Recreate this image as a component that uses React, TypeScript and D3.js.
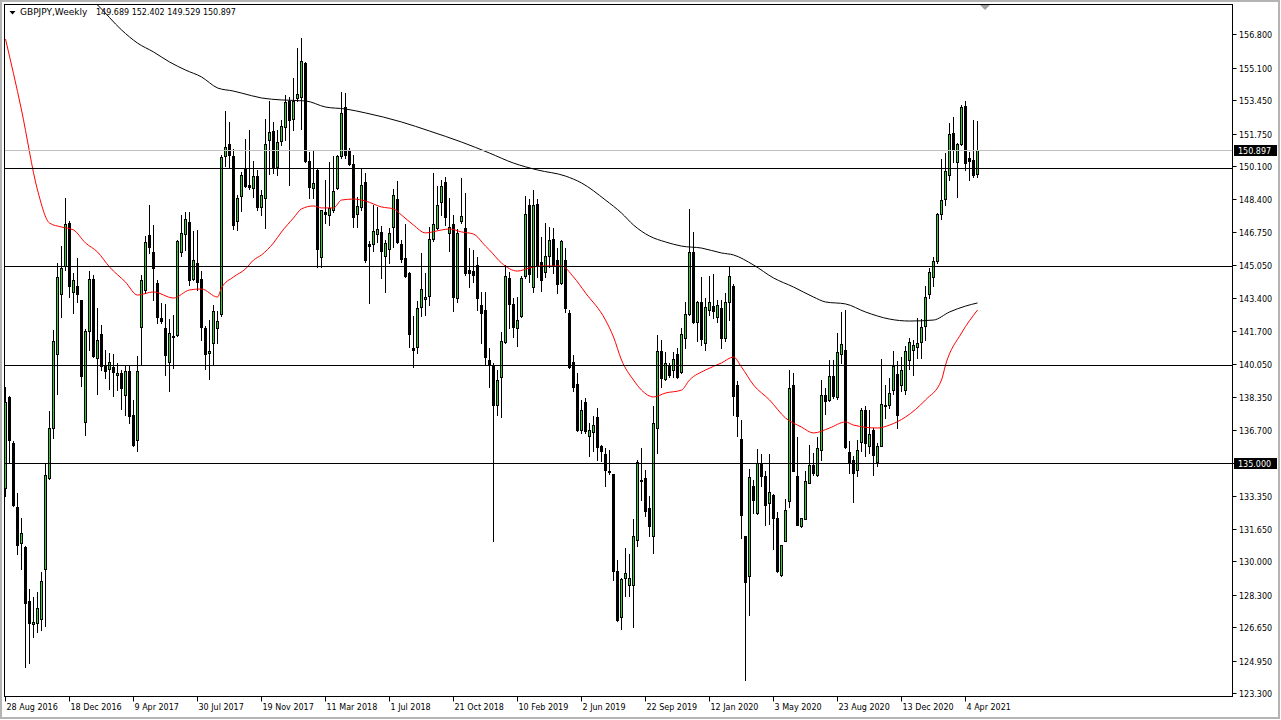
import * as d3 from "d3"

// GBPJPY weekly candles, first bar = week of 28 Aug 2016
const openPrices = [
  133.75, 138.38, 136.0, 132.75, 130.96, 130.71, 127.97, 126.8, 126.86, 127.08,
  129.61, 134.26, 136.79, 140.54, 143.58, 145.02, 147.18, 143.68, 143.99, 143.29,
  137.09, 141.69, 144.34, 140.34, 141.57, 140.0, 139.8, 139.88, 139.46, 139.58,
  138.47, 139.69, 137.46, 136.19, 141.92, 143.81, 146.61, 145.73, 144.15, 142.37,
  141.86, 140.14, 141.45, 141.53, 145.71, 146.64, 147.25, 144.36, 145.17, 144.36,
  141.86, 140.59, 141.1, 141.86, 142.58, 150.63, 151.22, 150.63, 147.29, 148.56,
  149.98, 149.14, 148.97, 149.61, 148.03, 148.46, 151.42, 151.88, 150.03, 151.37,
  152.1, 153.42, 152.47, 153.54, 153.63, 155.32, 150.36, 148.97, 149.9, 145.46,
  147.76, 147.59, 147.86, 148.97, 150.61, 153.12, 150.86, 150.2, 147.64, 148.03,
  149.31, 146.14, 146.12, 146.63, 146.76, 145.54, 145.86, 147.02, 148.41, 146.14,
  145.41, 144.64, 140.83, 140.88, 142.92, 143.32, 143.51, 146.37, 146.97, 148.25,
  149.27, 146.68, 147.14, 143.37, 147.32, 146.93, 144.81, 144.76, 145.07, 143.03,
  142.78, 140.25, 140.0, 137.96, 139.4, 141.13, 144.42, 143.09, 141.85, 142.48,
  144.51, 148.11, 143.93, 148.15, 145.2, 144.7, 145.52, 146.37, 145.32, 144.14,
  145.32, 142.61, 140.16, 139.01, 136.69, 138.1, 136.4, 136.56, 137.33, 135.85,
  135.47, 134.61, 134.46, 129.5, 127.18, 129.16, 128.79, 128.79, 131.11, 134.15,
  134.24, 132.72, 131.31, 136.78, 140.72, 139.26, 139.91, 139.74, 140.55, 139.65,
  141.35, 142.58, 145.74, 142.19, 143.21, 141.09, 142.78, 142.99, 142.41, 142.87,
  141.35, 143.17, 144.0, 138.98, 136.24, 131.31, 129.25, 133.85, 132.46, 135.0,
  134.36, 132.97, 133.39, 132.21, 129.3, 131.02, 133.05, 138.98, 134.36, 131.79,
  132.16, 133.98, 134.92, 134.41, 135.64, 138.47, 138.21, 139.43, 138.35, 140.55,
  140.76, 135.57, 135.18, 134.67, 136.07, 137.7, 135.85, 136.7, 135.04, 135.89,
  137.97, 137.97, 138.7, 139.53, 138.95, 138.7, 140.22, 140.73, 140.9, 141.13,
  141.95, 143.6, 144.45, 145.25, 147.66, 148.41, 149.64, 151.76, 150.29, 151.22,
  153.15, 150.49, 150.41, 149.689,
]
const highPrices = [
  138.85, 138.43, 136.1, 133.5, 132.23, 130.8, 128.6, 128.18, 128.43, 129.48,
  134.93, 137.64, 141.77, 145.15, 146.03, 148.45, 147.3, 144.65, 145.4, 143.3,
  141.8, 144.76, 144.56, 142.87, 142.03, 140.76, 140.59, 140.54, 140.08, 139.75,
  140.0, 139.92, 138.22, 140.42, 144.58, 146.53, 148.14, 147.12, 144.32, 143.14,
  143.1, 142.32, 142.54, 146.36, 147.63, 147.76, 147.76, 146.78, 146.83, 144.75,
  141.95, 142.29, 143.05, 142.71, 150.68, 152.88, 152.32, 150.97, 148.64, 149.78,
  151.46, 151.93, 150.36, 149.9, 148.88, 152.47, 153.41, 152.36, 151.93, 152.44,
  153.71, 153.63, 154.59, 156.12, 156.59, 155.41, 150.83, 150.92, 149.98, 147.88,
  149.39, 150.32, 150.61, 150.66, 153.88, 153.8, 151.0, 150.66, 148.54, 149.93,
  149.76, 146.31, 148.12, 148.03, 147.05, 146.34, 146.93, 148.92, 149.34, 146.34,
  147.15, 144.73, 142.47, 143.24, 145.66, 144.64, 147.02, 149.73, 149.08, 149.39,
  149.56, 148.46, 147.61, 146.88, 149.47, 148.71, 145.92, 145.83, 145.49, 143.71,
  143.71, 140.84, 140.08, 139.74, 141.68, 145.07, 144.7, 143.38, 143.43, 144.51,
  148.57, 148.4, 148.87, 148.4, 146.47, 147.18, 147.01, 146.96, 145.91, 146.34,
  145.91, 142.78, 140.5, 139.57, 138.21, 138.3, 137.03, 137.37, 137.79, 135.93,
  135.76, 135.68, 134.46, 130.09, 129.16, 130.69, 130.4, 132.16, 135.17, 135.76,
  134.66, 133.31, 137.91, 141.51, 141.26, 140.67, 140.08, 140.67, 140.84, 141.85,
  143.21, 147.94, 146.76, 143.26, 144.44, 143.38, 144.51, 144.61, 143.29, 143.29,
  143.63, 145.02, 144.1, 139.15, 137.2, 131.31, 134.7, 134.15, 135.71, 135.47,
  134.61, 135.47, 133.43, 132.51, 130.85, 133.17, 139.74, 139.57, 136.32, 132.21,
  134.58, 135.93, 135.51, 136.35, 139.2, 138.81, 140.25, 140.25, 141.63, 142.7,
  142.76, 136.11, 135.38, 136.19, 137.8, 137.9, 137.68, 136.8, 136.02, 140.29,
  138.98, 139.32, 140.68, 140.17, 140.39, 140.93, 141.35, 141.24, 142.37, 142.32,
  144.01, 144.91, 145.5, 147.73, 150.44, 150.78, 152.27, 152.61, 151.25, 153.2,
  153.4, 150.83, 152.44, 152.402,
]
const lowPrices = [
  133.33, 135.0, 132.8, 130.37, 129.61, 124.63, 124.85, 126.15, 126.4, 126.49,
  126.74, 134.17, 136.28, 138.53, 142.45, 144.81, 143.46, 142.62, 143.21, 138.9,
  136.42, 140.73, 140.4, 138.53, 139.75, 139.32, 138.78, 138.4, 138.73, 137.75,
  137.46, 137.03, 135.85, 135.59, 140.0, 143.64, 145.68, 143.31, 142.12, 142.12,
  139.49, 138.64, 139.83, 141.44, 145.51, 145.85, 144.07, 144.32, 143.81, 141.27,
  139.78, 139.27, 140.0, 141.1, 142.46, 150.08, 150.0, 146.9, 146.86, 147.8,
  149.05, 148.92, 148.54, 147.86, 147.61, 146.97, 149.69, 149.73, 149.64, 151.17,
  151.42, 149.15, 151.93, 153.42, 151.97, 150.32, 148.46, 148.46, 144.95, 144.98,
  147.19, 147.1, 147.78, 148.92, 150.49, 150.49, 150.15, 147.02, 147.02, 147.86,
  145.24, 143.15, 145.8, 146.25, 144.39, 143.71, 145.15, 145.97, 146.17, 145.24,
  144.47, 140.92, 139.86, 140.61, 142.49, 142.53, 143.03, 146.29, 146.9, 147.61,
  147.1, 145.8, 142.75, 143.2, 147.19, 144.56, 143.97, 144.22, 142.78, 141.12,
  140.0, 138.89, 131.02, 137.45, 137.34, 141.09, 141.85, 141.43, 140.96, 142.45,
  144.39, 144.22, 143.71, 144.48, 143.76, 144.48, 144.98, 144.64, 143.66, 144.09,
  142.7, 139.82, 138.64, 136.61, 136.52, 136.52, 135.34, 135.59, 135.14, 135.08,
  133.82, 134.46, 129.08, 126.96, 126.54, 128.23, 128.23, 126.67, 130.77, 133.14,
  132.29, 131.28, 130.43, 135.51, 138.86, 139.23, 139.4, 139.4, 139.31, 139.6,
  140.84, 142.53, 142.14, 141.18, 141.01, 140.75, 142.53, 142.36, 142.19, 140.87,
  141.18, 142.28, 137.45, 136.4, 131.19, 123.97, 127.3, 132.46, 132.43, 133.82,
  131.87, 131.92, 130.65, 129.45, 129.25, 131.02, 132.77, 134.58, 131.87, 131.75,
  132.16, 133.98, 134.41, 134.32, 135.14, 137.5, 138.13, 138.3, 138.25, 140.11,
  135.77, 134.5, 133.03, 134.33, 135.6, 135.38, 135.52, 134.37, 134.84, 135.85,
  137.29, 137.8, 138.53, 136.79, 138.65, 138.53, 139.78, 139.49, 140.34, 140.34,
  141.27, 143.38, 144.01, 145.19, 147.39, 148.12, 149.39, 150.32, 148.51, 151.17,
  149.9, 149.39, 149.53, 149.529,
]
const closePrices = [
  138.11, 136.17, 132.87, 130.84, 131.42, 127.87, 126.86, 126.93, 127.64, 129.02,
  134.37, 136.79, 141.22, 144.44, 144.9, 147.13, 144.02, 144.31, 143.58, 139.41,
  141.72, 144.34, 140.42, 141.27, 139.92, 139.66, 140.14, 139.63, 139.6, 138.82,
  139.69, 137.37, 135.93, 139.69, 144.29, 146.24, 145.98, 144.92, 142.41, 142.2,
  140.47, 141.61, 141.4, 146.31, 146.69, 147.42, 144.32, 145.31, 144.2, 141.92,
  140.54, 140.71, 142.75, 142.24, 150.56, 151.07, 150.64, 147.12, 148.47, 149.66,
  149.1, 149.02, 149.61, 148.03, 148.63, 151.2, 151.81, 149.98, 151.31, 152.15,
  153.34, 152.44, 153.42, 153.76, 155.46, 150.37, 149.05, 149.22, 145.86, 147.86,
  147.64, 147.95, 148.83, 150.61, 152.78, 150.66, 150.2, 147.53, 148.07, 149.14,
  145.32, 146.05, 146.8, 146.9, 145.8, 146.17, 146.68, 148.63, 146.25, 145.37,
  144.51, 141.54, 140.75, 142.86, 143.83, 143.44, 146.37, 147.14, 148.1, 149.08,
  147.49, 146.98, 143.46, 146.71, 147.56, 144.68, 144.64, 144.56, 143.37, 142.61,
  140.41, 140.0, 137.96, 139.23, 141.18, 144.51, 143.09, 141.94, 142.28, 144.39,
  147.64, 144.59, 148.11, 145.07, 144.31, 145.52, 146.34, 145.02, 144.09, 146.29,
  142.87, 139.87, 138.89, 136.69, 137.71, 136.61, 136.69, 136.91, 135.81, 135.59,
  134.63, 134.53, 129.5, 127.01, 129.11, 129.42, 129.16, 131.31, 135.05, 134.07,
  132.55, 131.79, 137.03, 140.72, 139.31, 140.08, 139.48, 140.28, 139.37, 141.57,
  142.58, 145.71, 142.19, 143.21, 141.29, 142.92, 143.21, 142.75, 143.04, 141.35,
  143.17, 144.51, 138.43, 137.37, 132.34, 128.94, 134.29, 133.1, 135.0, 134.32,
  132.85, 133.53, 132.21, 129.5, 130.85, 132.6, 138.81, 134.58, 131.87, 132.21,
  134.1, 134.92, 134.49, 135.76, 138.47, 138.18, 139.43, 138.43, 140.63, 141.04,
  135.82, 135.01, 134.5, 135.65, 137.68, 136.0, 136.5, 135.43, 135.89, 138.02,
  137.88, 138.56, 139.95, 137.46, 139.71, 140.68, 141.15, 140.98, 141.1, 141.91,
  143.43, 144.69, 145.25, 147.66, 148.38, 149.85, 151.73, 150.95, 151.22, 153.11,
  150.24, 150.37, 149.64, 150.897,
]

// moving averages (bar index, value)
const fastMaWeeks = [0, 4, 8, 11, 14, 17, 20, 23, 26, 30, 33, 37, 42, 46, 49, 53, 54, 57, 60, 62, 64, 67, 69, 72, 74, 77, 79, 82, 84, 87, 90, 94, 97, 99, 102, 105, 109, 111, 114, 117, 120, 121, 124, 128, 131, 134, 139, 142, 145, 150, 152, 154, 157, 159, 162, 165, 169, 171, 175, 179, 182, 184, 187, 191, 195, 199, 202, 206, 210, 212, 218, 221, 225, 230, 234, 235, 239, 243]
const fastMaValues = [156.56, 152.95, 148.88, 147.2, 147.0, 146.85, 146.19, 145.73, 144.97, 144.2, 143.54, 143.7, 143.39, 143.8, 143.85, 143.44, 143.9, 144.46, 144.87, 145.32, 145.58, 146.19, 146.75, 147.46, 147.92, 148.07, 147.97, 147.97, 148.37, 148.42, 148.32, 148.02, 147.92, 147.61, 147.1, 146.7, 146.85, 146.9, 146.75, 146.64, 146.03, 145.83, 145.17, 144.76, 144.92, 145.02, 145.02, 144.46, 143.65, 142.27, 141.41, 140.24, 139.22, 138.71, 138.36, 138.56, 138.71, 139.22, 139.73, 140.09, 140.39, 139.88, 138.97, 138.21, 137.29, 136.83, 136.53, 136.78, 137.09, 136.93, 136.78, 136.93, 137.34, 138.21, 139.22, 139.98, 141.61, 142.78]
const slowMaWeeks = [20, 23, 29, 33, 37, 41, 45, 49, 53, 57, 59, 64, 69, 75, 80, 85, 90, 99, 106, 114, 121, 127, 133, 140, 144, 150, 154, 157, 161, 165, 169, 174, 179, 182, 187, 192, 197, 202, 205, 210, 215, 221, 226, 232, 236, 240, 243]
const slowMaValues = [158.85, 158.29, 157.02, 156.35, 155.9, 155.39, 154.98, 154.63, 154.07, 153.91, 153.81, 153.56, 153.46, 153.41, 153.1, 153.0, 152.8, 152.34, 151.88, 151.32, 150.76, 150.25, 149.9, 149.59, 149.24, 148.37, 147.71, 147.1, 146.54, 146.24, 146.03, 145.93, 145.68, 145.58, 145.07, 144.41, 143.95, 143.44, 143.19, 143.09, 142.68, 142.32, 142.22, 142.27, 142.68, 142.98, 143.14]

const levelLines = [150, 145, 140, 135]
const priceTicks = [156.8, 155.1, 153.45, 151.75, 150.1, 148.4, 146.75, 145.05, 143.4, 141.7, 140.05, 138.35, 136.7, 135.0, 133.35, 131.65, 130.0, 128.3, 126.65, 124.95, 123.3]
const dateTicks = ["28 Aug 2016", "18 Dec 2016", "9 Apr 2017", "30 Jul 2017", "19 Nov 2017", "11 Mar 2018", "1 Jul 2018", "21 Oct 2018", "10 Feb 2019", "2 Jun 2019", "22 Sep 2019", "12 Jan 2020", "3 May 2020", "23 Aug 2020", "13 Dec 2020", "4 Apr 2021"]
const bidPrice = 150.897
const header = "GBPJPY,Weekly"

const W = 1281
const H = 720
const plot = { left: 4.5, right: 1232.5, top: 4.5, bottom: 696.5 }
const FONT = "'DejaVu Sans', Verdana, sans-serif"
const BULL = "#32cd32"

export default function App() {
  const x = d3.scaleLinear().domain([0, closePrices.length - 1]).range([5.5, 5.5 + 4 * (closePrices.length - 1)])
  const y = d3.scaleLinear().domain([123.3, 156.8]).range([693.2, 34.24])
  const py = (p: number) => Math.round(y(p))

  const maLine = d3
    .line<[number, number]>()
    .x((d) => x(d[0]))
    .y((d) => y(d[1]))
    .curve(d3.curveMonotoneX)
  const fastPath = maLine(fastMaWeeks.map((w, i) => [w, fastMaValues[i]] as [number, number])) || ""
  const slowPath = maLine(slowMaWeeks.map((w, i) => [w, slowMaValues[i]] as [number, number])) || ""

  const candles = closePrices.map((c, i) => {
    const o = openPrices[i]
    const cx = x(i)
    const top = py(Math.max(o, c))
    const bot = py(Math.min(o, c))
    const bull = c >= o
    return (
      <g key={i}>
        <line x1={cx} x2={cx} y1={py(highPrices[i])} y2={py(lowPrices[i]) + 1} stroke="#000" strokeWidth={1} />
        {bull ? (
          <rect x={cx - 1} y={top + 0.5} width={2} height={Math.max(1, bot - top)} fill={BULL} stroke="#000" strokeWidth={1} />
        ) : (
          <rect x={cx - 1.5} y={top} width={3} height={Math.max(1, bot - top + 1)} fill="#000" />
        )}
      </g>
    )
  })

  const bidY = py(bidPrice) + 0.5

  return (
    <svg
      width={W}
      height={H}
      style={{ position: "absolute", left: 0, top: 0, display: "block" }}
      fontFamily={FONT}
    >
      <defs>
        <clipPath id="plotClip">
          <rect x={plot.left} y={plot.top} width={plot.right - plot.left} height={plot.bottom - plot.top} />
        </clipPath>
      </defs>
      <rect x={1} y={1} width={W - 3} height={H - 3} fill="#fff" stroke="#b4b4b4" strokeWidth={2} />

      <g clipPath="url(#plotClip)">
        {candles}
        <path d={slowPath} fill="none" stroke="#000" strokeWidth={1} />
        <path d={fastPath} fill="none" stroke="#ff0000" strokeWidth={1} />
        <line x1={plot.left} x2={plot.right} y1={bidY} y2={bidY} stroke="#c0c0c0" strokeWidth={1} />
        {levelLines.map((p) => (
          <line key={p} x1={plot.left} x2={plot.right} y1={py(p) + 0.5} y2={py(p) + 0.5} stroke="#000" strokeWidth={1} />
        ))}
      </g>

      <rect x={plot.left} y={plot.top} width={plot.right - plot.left} height={plot.bottom - plot.top} fill="none" stroke="#000" strokeWidth={1} />

      {/* header */}
      <path d="M9.5,11 L15.5,11 L12.5,14.5 Z" fill="#000" />
      <text x={20} y={15} fontSize={9} fill="#000">{header}</text>
      <text x={96} y={15} fontSize={8} fill="#000">
        {[openPrices, highPrices, lowPrices, closePrices].map((a) => a[a.length - 1].toFixed(3)).join(" ")}
      </text>
      <path d="M980,5 L990,5 L985,10 Z" fill="#a0a0a0" />

      {/* price axis */}
      {priceTicks.map((p) => (
        <g key={p}>
          <line x1={plot.right} x2={plot.right + 4} y1={py(p) + 0.5} y2={py(p) + 0.5} stroke="#000" strokeWidth={1} />
          <text x={1239} y={py(p) + 3.5} fontSize={8} fill="#000">{p.toFixed(3)}</text>
        </g>
      ))}
      {[bidPrice, 135].map((p) => (
        <g key={"hl" + p}>
          <rect x={1234} y={py(p) - 5} width={43} height={11} fill="#000" />
          <text x={1238} y={py(p) + 3.5} fontSize={8} fill="#fff">{p.toFixed(3)}</text>
        </g>
      ))}

      {/* time axis */}
      {dateTicks.map((label, k) => {
        const tx = Math.round(x(16 * k) - 0.5) + 0.5
        return (
          <g key={label}>
            <line x1={tx} x2={tx} y1={plot.bottom} y2={plot.bottom + 5} stroke="#000" strokeWidth={1} />
            <text x={tx + 1} y={710} fontSize={8} fill="#000">{label}</text>
          </g>
        )
      })}
    </svg>
  )
}
